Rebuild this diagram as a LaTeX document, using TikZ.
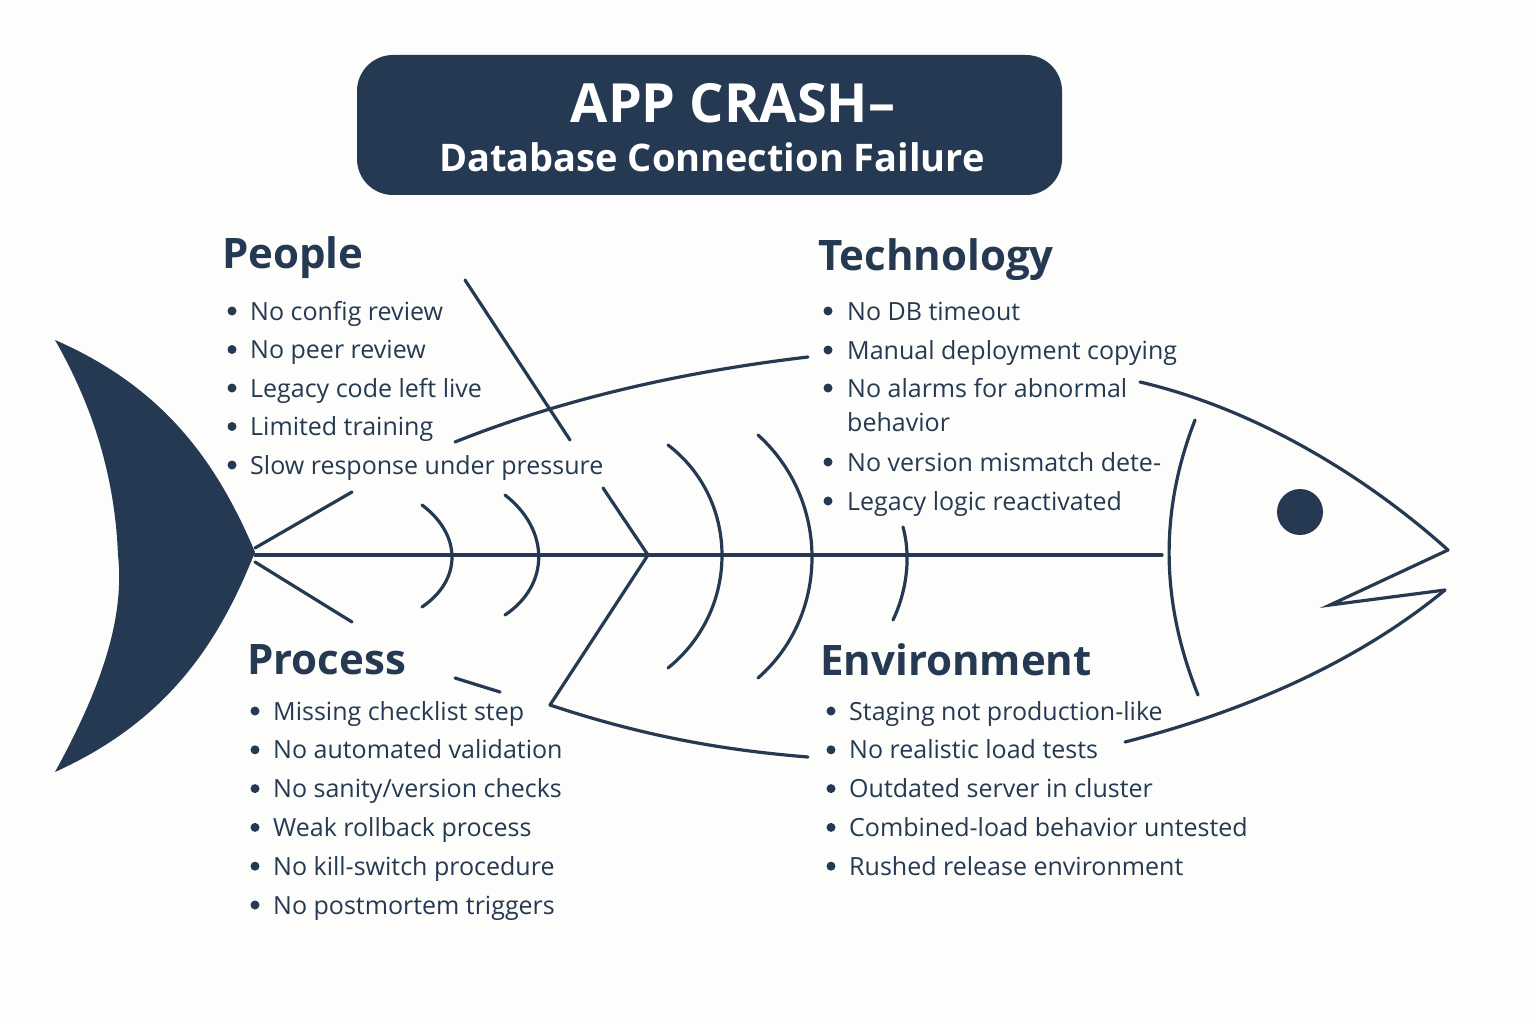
\documentclass[tikz,border=0pt]{standalone}
\usepackage{fontspec}
\setmainfont{Open Sans}
\definecolor{navy}{HTML}{253A52}
\definecolor{bg}{HTML}{FDFDFB}
\begin{document}
\begin{tikzpicture}[x=1pt,y=-1pt,
  line/.style={navy,line width=3.2pt,line cap=round},
  item/.style={anchor=base west,text=navy,font=\fontsize{25}{28}\selectfont,inner sep=0,yshift=-9pt},
  head/.style={anchor=west,text=navy,font=\fontsize{42}{46}\selectfont\bfseries,inner sep=0}]
\path[fill=bg] (0,0) rectangle (1536,1024);
\useasboundingbox (0,0) rectangle (1536,1024);
% title
\node[fill=navy,rounded corners=36pt,minimum width=705pt,minimum height=140pt] (title) at (709.5,125) {};
\node[text=white,font=\fontsize{54}{58}\selectfont\bfseries,inner sep=0] (t1) at (733,103) {APP CRASH–};
\node[text=white,font=\fontsize{38}{42}\selectfont\bfseries,inner sep=0] (t2) at (712,157) {Database Connection Failure};
% tail
\fill[navy] (55,340) .. controls (170,390) and (220,470) .. (255,552)
  .. controls (220,640) and (170,720) .. (55,772)
  .. controls (100,690) and (125,620) .. (118,555)
  .. controls (115,480) and (95,410) .. (55,340) -- cycle;
% spine
\draw[line] (255,555) -- (1162,555);
\draw[line] (255,548) -- (352,492);
\draw[line] (255,562) -- (352,622);
% body
\draw[line] (455,442) .. controls (560,400) and (680,372) .. (808,357);
\draw[line] (1140,382) .. controls (1260,410) and (1370,480) .. (1448,550);
\draw[line] (1448,550) -- (1330,605) -- (1445,590);
\draw[line] (1445,590) .. controls (1360,660) and (1250,710) .. (1125,742);
\draw[line] (550,705) .. controls (640,735) and (720,750) .. (808,757);
\draw[line] (455,678) -- (500,692);
\fill[navy] (1300,512) circle (23);
% gill
\draw[line] (1195,420) .. controls (1160,510) and (1160,600) .. (1198,695);
% bones
\draw[line] (465,280) -- (570,440);
\draw[line] (603,488) -- (648,555) -- (550,705);
\draw[line] (422,505) .. controls (462,535) and (462,580) .. (422,607);
\draw[line] (505,495) .. controls (550,530) and (550,585) .. (505,615);
\draw[line] (668,445) .. controls (740,500) and (740,610) .. (668,668);
\draw[line] (758,435) .. controls (830,500) and (830,615) .. (758,678);
\draw[line] (903,527) .. controls (912,560) and (905,595) .. (893,620);
% People
\node[head] (hp) at (222,258) {People};
\foreach \t [count=\i from 0] in {No config review,No peer review,Legacy code left live,Limited training,Slow response under pressure}
  {\fill[navy] (232,{311+38.5*\i}) circle (4.5);
   \node[item] at (250,{311+38.5*\i}) {\t};}
% Technology
\node[head] (ht) at (818,260) {Technology};
\foreach \t/\y in {No DB timeout/311,Manual deployment copying/350,No alarms for abnormal/388,No version mismatch dete-/462,Legacy logic reactivated/501}
  {\fill[navy] (828,\y) circle (4.5);
   \node[item] at (847,\y) {\t};}
\node[item] at (847,422) {behavior};
% Process
\node[head] (hpr) at (247,660) {Process};
\foreach \t [count=\i from 0] in {Missing checklist step,No automated validation,No sanity/version checks,Weak rollback process,No kill-switch procedure,No postmortem triggers}
  {\fill[navy] (255,{711+38.8*\i}) circle (4.5);
   \node[item] at (273,{711+38.8*\i}) {\t};}
% Environment
\node[head] (he) at (820,660) {Environment};
\foreach \t [count=\i from 0] in {Staging not production-like,No realistic load tests,Outdated server in cluster,Combined-load behavior untested,Rushed release environment}
  {\fill[navy] (831,{711+38.8*\i}) circle (4.5);
   \node[item] at (849,{711+38.8*\i}) {\t};}
\end{tikzpicture}
\end{document}
